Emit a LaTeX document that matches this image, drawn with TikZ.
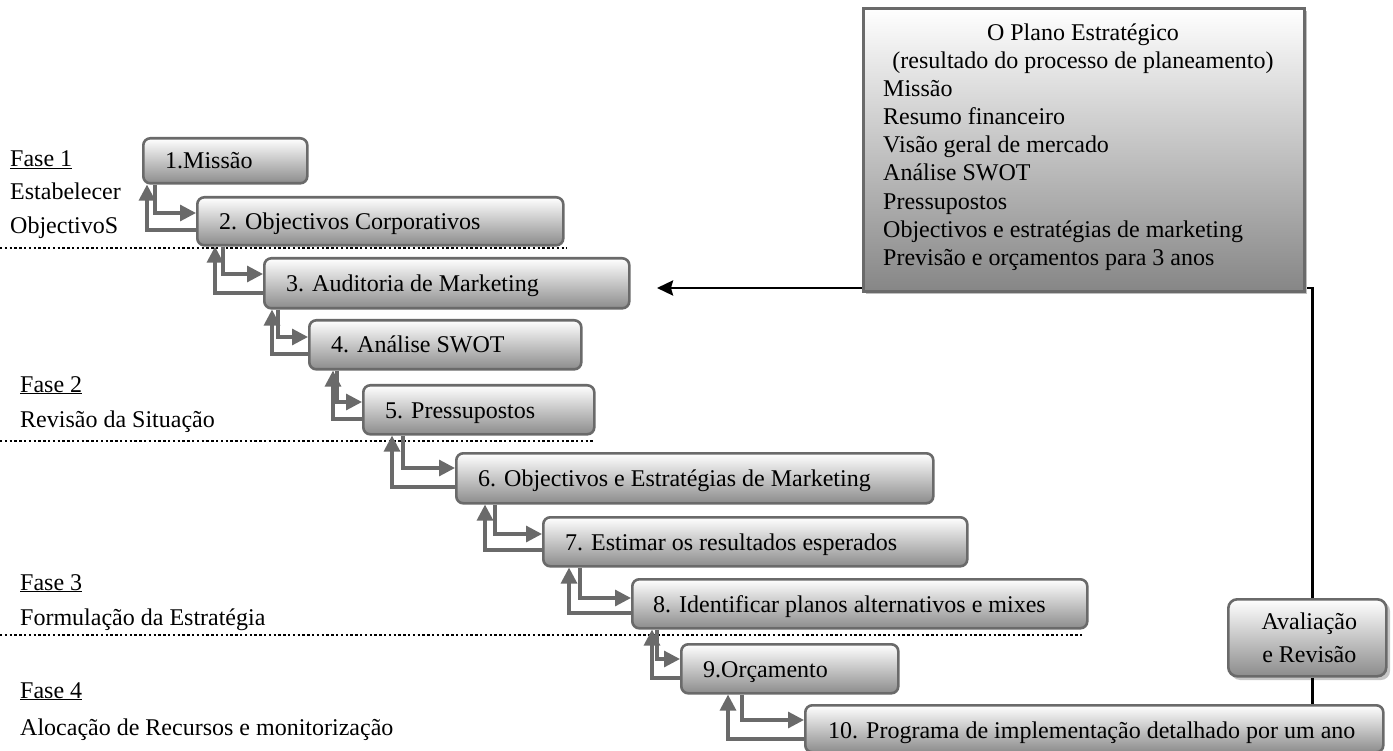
\documentclass[tikz,border=0pt]{standalone}
\usepackage{fontspec}
\setmainfont{Liberation Serif}
\usetikzlibrary{arrows.meta,calc}
\definecolor{edge}{HTML}{6A6A6A}
\definecolor{boxbot}{HTML}{8C8C8C}
\definecolor{planbot}{HTML}{868686}
\tikzset{
 stepbox/.style={draw=edge, line width=2.6pt, rounded corners=7pt, top color=white, bottom color=boxbot, inner sep=0pt, anchor=north west},
 planbox/.style={draw=edge, line width=2.8pt, top color=white, bottom color=planbot, inner sep=0pt, anchor=north west},
 txt/.style={inner sep=0pt, font=\fontsize{24}{28.2}\selectfont},
 steptext/.style={txt, anchor=base west},
 garrow/.style={draw=edge, line width=3.2pt, -{Triangle[length=16pt,width=16pt]}},
 blk/.style={draw=black, line width=2.8pt},
 phase/.style={draw=black, line width=2.6pt, dash pattern=on 2.4pt off 2.4pt},
}
\begin{document}
\begin{tikzpicture}[x=1pt,y=-1pt]
\useasboundingbox (0,0) rectangle (1393,751);
% phase labels
\node[steptext] (f1) at (10,167) {\underline{Fase 1}};
\node[steptext] (f1a) at (10,200) {Estabelecer};
\node[steptext] (f1b) at (10,234) {ObjectivoS};
\node[steptext] (f2) at (20,392) {\underline{Fase 2}};
\node[steptext] (f2a) at (20,428) {Revisão da Situação};
\node[steptext] (f3) at (20,590) {\underline{Fase 3}};
\node[steptext] (f3a) at (20,625) {Formulação da Estratégia};
\node[steptext] (f4) at (20,698) {\underline{Fase 4}};
\node[steptext] (f4a) at (20,735) {Alocação de Recursos e monitorização};
% dotted separators
\coordinate (d1a) at (0,248); \coordinate (d1b) at (567,248);
\coordinate (d2a) at (0,441); \coordinate (d2b) at (593,441);
\coordinate (d3a) at (0,635); \coordinate (d3b) at (1082,635);
\draw[phase] (d1a) -- (d1b);
\draw[phase] (d2a) -- (d2b);
\draw[phase] (d3a) -- (d3b);
% step boxes
\node[stepbox, minimum width=164pt, minimum height=45pt] (b1) at (142,137) {};
\node[stepbox, minimum width=366pt, minimum height=48pt] (b2) at (196,196) {};
\node[stepbox, minimum width=365pt, minimum height=50pt] (b3) at (263,257) {};
\node[stepbox, minimum width=272pt, minimum height=49pt] (b4) at (308,319) {};
\node[stepbox, minimum width=231pt, minimum height=49pt] (b5) at (362,384) {};
\node[stepbox, minimum width=477pt, minimum height=50pt] (b6) at (455,452) {};
\node[stepbox, minimum width=424pt, minimum height=49pt] (b7) at (542,516) {};
\node[stepbox, minimum width=455pt, minimum height=49pt] (b8) at (631,578) {};
\node[stepbox, minimum width=217pt, minimum height=49pt] (b9) at (680,643) {};
\node[stepbox, minimum width=578pt, minimum height=47pt] (b10) at (804,704) {};
\node[steptext] (t1) at ($(b1.north west)+(23,32)$) {1.Missão};
\node[steptext] (t2) at ($(b2.north west)+(23,34)$) {2. Objectivos Corporativos};
\node[steptext] (t3) at ($(b3.north west)+(23,35)$) {3. Auditoria de Marketing};
\node[steptext] (t4) at ($(b4.north west)+(23,34)$) {4. Análise SWOT};
\node[steptext] (t5) at ($(b5.north west)+(23,34)$) {5. Pressupostos};
\node[steptext] (t6) at ($(b6.north west)+(23,34)$) {6. Objectivos e Estratégias de Marketing};
\node[steptext] (t7) at ($(b7.north west)+(23,34)$) {7. Estimar os resultados esperados};
\node[steptext] (t8) at ($(b8.north west)+(22,34)$) {8. Identificar planos alternativos e mixes};
\node[steptext] (t9) at ($(b9.north west)+(23,34)$) {9.Orçamento};
\node[steptext] (t10) at ($(b10.north west)+(24,34)$) {10. Programa de implementação detalhado por um ano};
% connectors between steps
\foreach \a/\b/\dd/\du/\yf/\yb in {b1/b2/13/5/17/34, b2/b3/27/19/17/36, b3/b4/15/9/18/35,
  b4/b5/29/25/18/35, b5/b6/41/30/16/35, b6/b7/40/30/18/34, b7/b8/38/27/20/35,
  b8/b9/26/21/16/35, b9/b10/62/48/16/35}{
  \draw[garrow] ($(\a.south west)+(\dd,0)$) |- ($(\b.north west)+(0,\yf)$);
  \draw[garrow] ($(\b.north west)+(0,\yb)$) -| ($(\a.south west)+(\du,0)$);
}
% evaluation box
\fill[gray!45, rounded corners=9pt] (1231,602) rectangle (1390,680);
\node[stepbox, rounded corners=9pt, minimum width=158pt, minimum height=77pt] (ev) at (1227,598) {};
\node[txt, align=center, font=\fontsize{24}{33}\selectfont] (evt) at ($(ev.center)+(2,0)$) {Avaliação\\e Revisão};
% feedback connector
\coordinate (fb) at (657,288);
\coordinate (evn) at ($(ev.north)+(5,0)$);
\coordinate (evs) at ($(ev.south)+(5,0)$);
\draw[blk, -{Stealth[length=16pt,width=15pt,inset=2pt]}] (evn) |- (fb);
\draw[blk] (evs) -- (evs |- b10.north);
% strategic plan box
\fill[gray!50] (866,11) rectangle (1307,294);
\node[planbox, minimum width=441pt, minimum height=283pt] (plan) at (862,7) {};
\node[txt, align=center, anchor=base] (pt) at (1083,69) {O Plano Estratégico\\(resultado do processo de planeamento)};
\node[txt, align=left, anchor=north west] (pl) at (883,80) {Missão\\Resumo financeiro\\Visão geral de mercado\\Análise SWOT\\Pressupostos\\Objectivos e estratégias de marketing\\Previsão e orçamentos para 3 anos};
\end{tikzpicture}
\end{document}
